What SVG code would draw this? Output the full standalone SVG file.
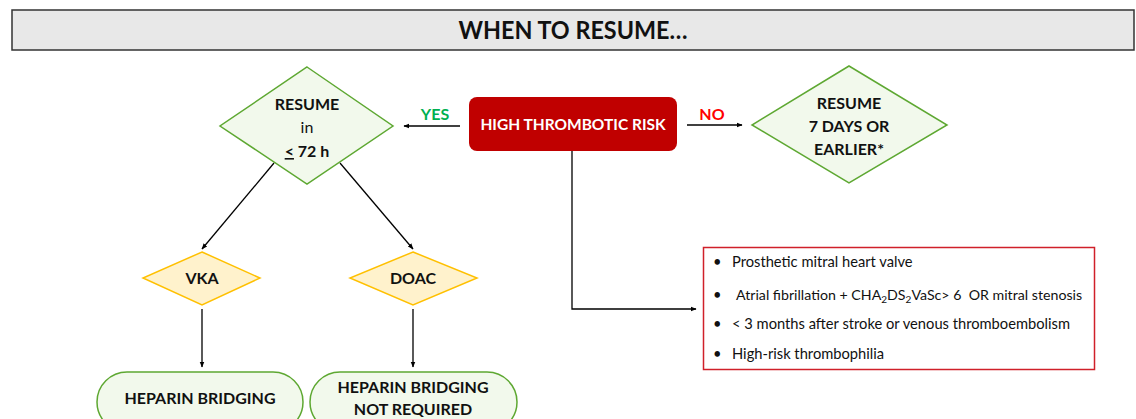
<svg xmlns="http://www.w3.org/2000/svg" width="1136" height="419" viewBox="0 0 1136 419">
<defs>
<marker id="ah" viewBox="0 0 10 10" refX="9" refY="5" markerWidth="6" markerHeight="6" orient="auto" markerUnits="userSpaceOnUse"><path d="M0,1 L10,5 L0,9 z" fill="#000"/></marker>
<style>
text{font-family:Lato,"Open Sans","Liberation Sans",sans-serif;}
.b{font-weight:bold;font-size:16px;fill:#111;text-anchor:middle;}
.gd{fill:#f2f9ec;stroke:#5ea832;stroke-width:1.5;}
.yd{fill:#fff2cc;stroke:#ffc000;stroke-width:1.5;}
.ln{fill:none;stroke:#000;stroke-width:1.3;}
.li{font-size:14.7px;fill:#111;white-space:pre;}
</style>
</defs>
<rect width="1136" height="419" fill="#fff"/>
<g id="title">
<rect x="12" y="10" width="1122" height="40" fill="#e8e8e8" stroke="#333" stroke-width="1.5"/>
<text x="573" y="39" class="b" style="font-size:24px" textLength="229" lengthAdjust="spacingAndGlyphs">WHEN TO RESUME…</text>
</g>
<g id="connectors">
<line class="ln" x1="460" y1="126" x2="404" y2="126" marker-end="url(#ah)"/>
<line class="ln" x1="687" y1="125" x2="742" y2="125" marker-end="url(#ah)"/>
<polyline class="ln" points="572,151 572,309 696,309" marker-end="url(#ah)"/>
<line class="ln" x1="274" y1="163" x2="202" y2="249" marker-end="url(#ah)"/>
<line class="ln" x1="340" y1="163" x2="413" y2="249" marker-end="url(#ah)"/>
<line class="ln" x1="202" y1="309" x2="202" y2="367" marker-end="url(#ah)"/>
<line class="ln" x1="413" y1="309" x2="413" y2="367" marker-end="url(#ah)"/>
<text x="435" y="120" class="b" style="fill:#00b050">YES</text>
<text x="712" y="120" class="b" style="fill:#ff0000">NO</text>
</g>
<g id="high-risk">
<rect x="469" y="97" width="208" height="54" rx="8" fill="#c00000"/>
<text x="573" y="130" class="b" style="fill:#fff;font-size:15.5px">HIGH THROMBOTIC RISK</text>
</g>
<g id="resume72">
<polygon class="gd" points="307,67 393,126 307,184 220,126"/>
<text x="307" y="110" class="b">RESUME</text>
<text x="307" y="133" class="b" style="font-weight:normal">in</text>
<text x="307" y="157" class="b"><tspan text-decoration="underline">&lt;</tspan> 72 h</text>
</g>
<g id="resume7">
<polygon class="gd" points="849,66 947,125 849,183 752,125"/>
<text x="849" y="109" class="b">RESUME</text>
<text x="849" y="132" class="b">7 DAYS OR</text>
<text x="849" y="155" class="b">EARLIER*</text>
</g>
<g id="vka">
<polygon class="yd" points="202,252 260,278 202,305 143,278"/>
<text x="202" y="284" class="b">VKA</text>
</g>
<g id="doac">
<polygon class="yd" points="413,252 477,278 413,305 350,278"/>
<text x="413" y="284" class="b">DOAC</text>
</g>
<g id="bridging">
<rect x="97" y="372" width="206" height="60" rx="30" class="gd"/>
<text x="200" y="404" class="b">HEPARIN BRIDGING</text>
</g>
<g id="no-bridging">
<rect x="310" y="372" width="207" height="60" rx="30" class="gd"/>
<text x="413" y="393" class="b">HEPARIN BRIDGING</text>
<text x="413" y="415" class="b">NOT REQUIRED</text>
</g>
<g id="criteria">
<rect x="703.5" y="247.5" width="391" height="122" fill="#fff" stroke="#d0202a" stroke-width="1.5"/>
<text x="713" y="267" class="li">•</text><text x="732" y="267" class="li">Prosthetic mitral heart valve</text>
<text x="713" y="300" class="li">•</text><text x="736" y="300" class="li" style="font-size:14.2px">Atrial fibrillation + CHA<tspan font-size="10" dy="3">2</tspan><tspan dy="-3">DS</tspan><tspan font-size="10" dy="3">2</tspan><tspan dy="-3">VaSc&gt; 6  OR mitral stenosis</tspan></text>
<text x="713" y="329" class="li">•</text><text x="732" y="329" class="li">&lt; 3 months after stroke or venous thromboembolism</text>
<text x="713" y="359" class="li">•</text><text x="732" y="359" class="li">High-risk thrombophilia</text>
</g>
</svg>
